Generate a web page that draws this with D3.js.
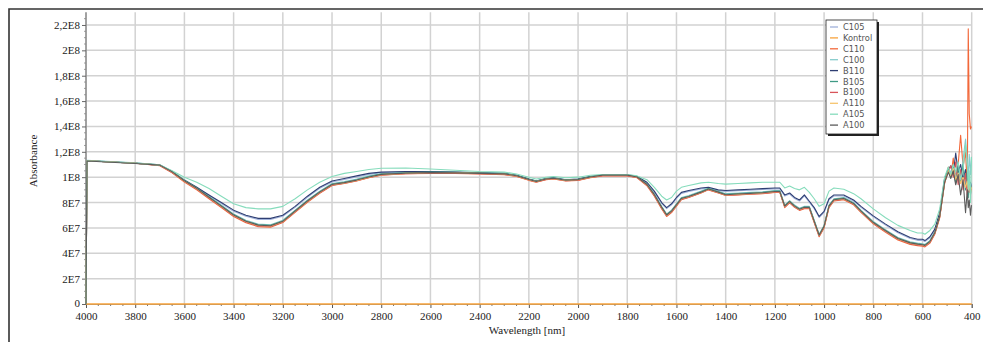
<!DOCTYPE html>
<html><head><meta charset="utf-8">
<script src="https://cdn.jsdelivr.net/npm/d3@7"></script>
<style>body{margin:0;background:#fff}</style></head>
<body>
<svg id="c" width="983" height="342"></svg>
<script>
// Wavelengths [nm] shared by all spectra
const wavelengths = [
  4000, 3996, 3900, 3800, 3700, 3650, 3600, 3550, 3500, 3450,
  3400, 3350, 3300, 3250, 3200, 3150, 3100, 3050, 3000, 2950,
  2900, 2850, 2800, 2700, 2600, 2500, 2400, 2300, 2250, 2200,
  2170, 2130, 2100, 2050, 2000, 1950, 1900, 1800, 1760, 1720,
  1690, 1660, 1640, 1620, 1600, 1580, 1550, 1500, 1470, 1430,
  1400, 1350, 1300, 1250, 1200, 1180, 1160, 1140, 1120, 1100,
  1080, 1060, 1040, 1020, 1000, 980, 960, 920, 880, 850,
  800, 750, 700, 650, 620, 600, 590, 570, 550, 530,
  510, 495, 485, 475, 465, 455, 445, 435, 425, 418, 414, 410, 405, 401
];
// Absorbance values in units of 1E7
const C105 = [
  0, 11.3, 11.2, 11.1, 10.95, 10.4, 9.72, 9.15, 8.55, 7.92,
  7.32, 6.92, 6.67, 6.67, 6.92, 7.62, 8.42, 9.12, 9.62, 9.82,
  10.02, 10.22, 10.35, 10.4, 10.4, 10.36, 10.32, 10.27, 10.12, 9.82,
  9.68, 9.88, 9.92, 9.78, 9.82, 10.02, 10.14, 10.14, 10.02, 9.55,
  8.82, 7.92, 7.52, 7.82, 8.32, 8.72, 8.88, 9.08, 9.14, 8.94,
  8.88, 8.93, 8.98, 9.03, 9.08, 9.08, 8.52, 8.67, 8.32, 8.12,
  8.52, 8.02, 7.52, 6.82, 7.22, 8.22, 8.52, 8.52, 8.12, 7.62,
  6.87, 6.22, 5.62, 5.17, 5.02, 5.02, 4.92, 5.22, 5.82, 7.1,
  9.9, 10.7, 10.4, 10.8, 10.2, 10.9, 10.0, 10.5, 9.6, 10.1, 9.3, 9.8, 9.1, 9.5
];
const kontrolWavelengths = [4000, 400];
const Kontrol = [0, 0];
const C110 = [
  0, 11.3, 11.2, 11.1, 10.9, 10.35, 9.62, 9.0, 8.3, 7.6,
  6.9, 6.4, 6.1, 6.05, 6.42, 7.22, 8.02, 8.72, 9.35, 9.5,
  9.7, 9.95, 10.15, 10.28, 10.3, 10.3, 10.25, 10.2, 10.05, 9.75,
  9.6, 9.8, 9.85, 9.7, 9.75, 9.95, 10.1, 10.1, 9.95, 9.32,
  8.5, 7.5, 6.9, 7.2, 7.72, 8.22, 8.4, 8.75, 9.0, 8.75,
  8.55, 8.6, 8.65, 8.7, 8.8, 8.8, 7.6, 7.98, 7.62, 7.38,
  7.52, 7.52, 6.4, 5.3, 6.0, 7.6, 8.12, 8.22, 7.82, 7.22,
  6.32, 5.65, 5.05, 4.7, 4.6, 4.55, 4.5, 4.8, 5.5, 6.8,
  9.5, 10.8, 10.0, 11.5, 9.6, 11.0, 13.3, 10.8, 12.0, 9.0, 21.7, 15.0, 13.8, 14.0
];
const C100 = [
  0, 11.33, 11.23, 11.13, 10.98, 10.48, 9.8, 9.2, 8.5, 7.8,
  7.1, 6.6, 6.3, 6.25, 6.6, 7.4, 8.2, 8.9, 9.5, 9.65,
  9.85, 10.1, 10.28, 10.38, 10.42, 10.4, 10.36, 10.32, 10.16, 9.86,
  9.72, 9.92, 9.96, 9.82, 9.86, 10.06, 10.2, 10.2, 10.06, 9.5,
  8.7, 7.7, 7.1, 7.4, 7.9, 8.4, 8.55, 8.9, 9.15, 8.9,
  8.7, 8.75, 8.8, 8.85, 8.95, 8.95, 7.8, 8.15, 7.8, 7.55,
  7.7, 7.7, 6.6, 5.5, 6.2, 7.8, 8.3, 8.4, 8.0, 7.4,
  6.5, 5.85, 5.25, 4.9, 4.8, 4.75, 4.7, 5.0, 5.7, 7.0,
  9.8, 10.5, 10.3, 10.6, 10.0, 10.4, 9.8, 11.4, 13.0, 11.2, 10.0, 11.8, 10.2, 11.6
];
const B110 = [
  0, 11.3, 11.2, 11.1, 10.95, 10.4, 9.75, 9.2, 8.6, 8.0,
  7.4, 7.0, 6.75, 6.75, 7.0, 7.7, 8.5, 9.2, 9.7, 9.9,
  10.1, 10.3, 10.4, 10.45, 10.45, 10.4, 10.35, 10.3, 10.15, 9.85,
  9.7, 9.9, 9.95, 9.8, 9.85, 10.05, 10.15, 10.15, 10.05, 9.6,
  8.9, 8.0, 7.6, 7.9, 8.4, 8.8, 8.95, 9.15, 9.2, 9.0,
  8.95, 9.0, 9.05, 9.1, 9.15, 9.15, 8.6, 8.75, 8.4, 8.2,
  8.6, 8.1, 7.6, 6.9, 7.3, 8.3, 8.6, 8.6, 8.2, 7.7,
  6.95, 6.3, 5.7, 5.25, 5.1, 5.1, 5.0, 5.3, 5.9, 7.2,
  9.9, 10.6, 10.9, 10.2, 11.9, 10.4, 11.0, 9.8, 10.6, 9.2, 9.9, 9.0, 9.6, 9.2
];
const B105 = [
  0, 11.32, 11.22, 11.12, 10.97, 10.45, 9.75, 9.15, 8.45, 7.75,
  7.05, 6.55, 6.25, 6.2, 6.55, 7.35, 8.15, 8.85, 9.45, 9.6,
  9.8, 10.05, 10.25, 10.35, 10.4, 10.38, 10.33, 10.28, 10.13, 9.83,
  9.68, 9.88, 9.93, 9.78, 9.83, 10.03, 10.18, 10.18, 10.03, 9.45,
  8.65, 7.65, 7.05, 7.35, 7.85, 8.35, 8.5, 8.85, 9.1, 8.85,
  8.65, 8.7, 8.75, 8.8, 8.9, 8.9, 7.75, 8.1, 7.75, 7.5,
  7.65, 7.65, 6.55, 5.45, 6.15, 7.75, 8.25, 8.35, 7.95, 7.35,
  6.45, 5.8, 5.2, 4.85, 4.75, 4.7, 4.65, 4.95, 5.65, 6.95,
  9.7, 10.7, 10.0, 10.9, 9.5, 10.8, 9.6, 11.0, 9.0, 10.4, 8.4, 9.8, 8.6, 9.3
];
const B100 = [
  0, 11.3, 11.2, 11.1, 10.93, 10.37, 9.67, 9.06, 8.36, 7.66,
  6.96, 6.46, 6.16, 6.11, 6.47, 7.27, 8.07, 8.77, 9.37, 9.52,
  9.72, 9.97, 10.17, 10.27, 10.32, 10.32, 10.27, 10.22, 10.07, 9.77,
  9.62, 9.82, 9.87, 9.72, 9.77, 9.97, 10.12, 10.12, 9.97, 9.37,
  8.56, 7.56, 6.96, 7.26, 7.76, 8.26, 8.42, 8.77, 9.02, 8.77,
  8.57, 8.62, 8.67, 8.72, 8.82, 8.82, 7.66, 8.02, 7.66, 7.42,
  7.56, 7.56, 6.46, 5.36, 6.06, 7.66, 8.17, 8.27, 7.87, 7.27,
  6.37, 5.72, 5.12, 4.76, 4.66, 4.62, 4.56, 4.86, 5.56, 6.86,
  9.6, 10.4, 10.9, 10.0, 11.2, 9.4, 10.6, 9.0, 10.3, 8.6, 9.5, 8.8, 9.4, 9.0
];
const A110 = [
  0, 11.3, 11.2, 11.1, 10.95, 10.4, 9.7, 9.1, 8.4, 7.7,
  7.0, 6.5, 6.2, 6.15, 6.5, 7.3, 8.1, 8.8, 9.4, 9.55,
  9.75, 10.0, 10.2, 10.3, 10.35, 10.35, 10.3, 10.25, 10.1, 9.8,
  9.65, 9.85, 9.9, 9.75, 9.8, 10.0, 10.15, 10.15, 10.0, 9.4,
  8.6, 7.6, 7.0, 7.3, 7.8, 8.3, 8.45, 8.8, 9.05, 8.8,
  8.6, 8.65, 8.7, 8.75, 8.85, 8.85, 7.7, 8.05, 7.7, 7.45,
  7.6, 7.6, 6.5, 5.4, 6.1, 7.7, 8.2, 8.3, 7.9, 7.3,
  6.4, 5.75, 5.15, 4.8, 4.7, 4.65, 4.6, 4.9, 5.6, 6.9,
  9.6, 10.5, 10.1, 10.7, 9.8, 10.3, 9.5, 10.0, 9.2, 9.7, 9.0, 9.4, 8.8, 9.2
];
const A105 = [
  0, 11.3, 11.2, 11.1, 10.95, 10.5, 10.0, 9.6, 9.1, 8.5,
  7.9, 7.6, 7.5, 7.5, 7.7, 8.3, 9.0, 9.6, 10.05, 10.3,
  10.45, 10.6, 10.7, 10.72, 10.65, 10.55, 10.45, 10.4, 10.25, 10.0,
  9.85, 10.0, 10.05, 9.95, 10.0, 10.15, 10.2, 10.2, 10.1, 9.8,
  9.2, 8.5, 8.2, 8.4, 8.9, 9.2, 9.35, 9.55, 9.6, 9.5,
  9.45, 9.5, 9.55, 9.6, 9.6, 9.6, 9.15, 9.3, 9.1, 9.0,
  9.2, 8.8, 8.3, 7.7, 7.9, 8.9, 9.15, 9.05, 8.7, 8.3,
  7.5, 6.8, 6.2, 5.8, 5.6, 5.6, 5.5, 5.8, 6.3, 7.5,
  10.0, 10.8, 10.2, 11.0, 10.4, 11.2, 9.8, 10.6, 12.6, 11.0, 9.0, 10.5, 8.0, 11.6
];
const A100 = [
  0, 11.28, 11.18, 11.08, 10.95, 10.42, 9.72, 9.12, 8.42, 7.72,
  7.02, 6.52, 6.22, 6.17, 6.52, 7.32, 8.12, 8.82, 9.42, 9.57,
  9.77, 10.02, 10.22, 10.32, 10.36, 10.34, 10.3, 10.26, 10.11, 9.81,
  9.66, 9.86, 9.91, 9.76, 9.81, 10.01, 10.16, 10.16, 10.01, 9.42,
  8.62, 7.62, 7.02, 7.32, 7.82, 8.32, 8.47, 8.82, 9.07, 8.82,
  8.62, 8.67, 8.72, 8.77, 8.87, 8.87, 7.72, 8.07, 7.72, 7.47,
  7.62, 7.62, 6.52, 5.42, 6.12, 7.72, 8.22, 8.32, 7.92, 7.32,
  6.42, 5.77, 5.17, 4.82, 4.72, 4.67, 4.62, 4.92, 5.62, 6.92,
  9.6, 10.4, 9.9, 10.5, 9.4, 10.2, 8.6, 9.8, 7.2, 9.0, 7.6, 8.2, 7.0, 7.8
];
const seriesNames = ["C105","Kontrol","C110","C100","B110","B105","B100","A110","A105","A100"];
const seriesColors = ["#9fb1da","#f7a33c","#f2683a","#86cccc","#2e3e72","#3f9a85","#d8545a","#f6c46e","#86dcbc","#5b5b5b"];
const xTicks = [4000,3800,3600,3400,3200,3000,2800,2600,2400,2200,2000,1800,1600,1400,1200,1000,800,600,400];
const yTicks = [0,2e7,4e7,6e7,8e7,1e8,1.2e8,1.4e8,1.6e8,1.8e8,2e8,2.2e8];
const yTickLabels = ["0","2E7","4E7","6E7","8E7","1E8","1,2E8","1,4E8","1,6E8","1,8E8","2E8","2,2E8"];

const seriesValues = [C105, Kontrol, C110, C100, B110, B105, B100, A110, A105, A100];

const svg = d3.select("#c");
const x = d3.scaleLinear().domain([4000, 400]).range([86, 971.7]);
const y = d3.scaleLinear().domain([0, 2.3e8]).range([304, 12.3]);

// outer frame
svg.append("path").attr("d", "M9,342 V9 H983").attr("fill","none").attr("stroke","#333").attr("stroke-width",1.6);

// grid
const g = svg.append("g");
g.selectAll(".vg").data(xTicks).join("line")
  .attr("x1", d => x(d)).attr("x2", d => x(d)).attr("y1", y.range()[1]).attr("y2", y(0))
  .attr("stroke", "#d2d2d2").attr("stroke-width", 1.5);
g.selectAll(".hg").data(yTicks.slice(1)).join("line")
  .attr("x1", x(4000)).attr("x2", x(400)).attr("y1", d => y(d)).attr("y2", d => y(d))
  .attr("stroke", "#d2d2d2").attr("stroke-width", 1.5);

// y axis
const yAxis = d3.axisLeft(y).tickValues(yTicks).tickFormat((d,i) => yTickLabels[i]).tickSize(4).tickPadding(2);
const ya = svg.append("g").attr("transform", `translate(${x(4000)},0)`).call(yAxis);
ya.select(".domain").attr("stroke","#666").attr("d", `M0,${y.range()[1]}V${y(0)}`);
ya.selectAll(".tick line").attr("stroke","#666");
ya.selectAll("text").attr("font-family","'Liberation Serif', serif").attr("font-size", 11).attr("fill","#222");
ya.selectAll(".tick").filter(d => d === 0).select("text").attr("dy", "0.2em");
const yMinor = d3.range(0, 2.3e8, 5e6).filter(v => v % 2e7 !== 0);
svg.append("g").selectAll("line").data(yMinor).join("line")
  .attr("x1", x(4000) - 2).attr("x2", x(4000)).attr("y1", d => y(d)).attr("y2", d => y(d))
  .attr("stroke", "#888").attr("stroke-width", 0.8);

// x axis
const xAxis = d3.axisBottom(x).tickValues(xTicks).tickFormat(d3.format("d")).tickSize(4).tickPadding(4);
const xa = svg.append("g").attr("transform", `translate(0,${y(0)})`).call(xAxis);
xa.select(".domain").attr("stroke","#888");
xa.selectAll(".tick line").attr("stroke","#555");
xa.selectAll("text").attr("font-family","'Liberation Serif', serif").attr("font-size", 11).attr("fill","#222");
const xMinor = d3.range(4000, 399, -50).filter(v => v % 200 !== 0);
svg.append("g").selectAll("line").data(xMinor).join("line")
  .attr("x1", d => x(d)).attr("x2", d => x(d)).attr("y1", y(0)).attr("y2", y(0) + 2)
  .attr("stroke", "#555").attr("stroke-width", 0.8);

// axis titles
svg.append("text").attr("x", 527).attr("y", 334).attr("text-anchor","middle")
  .attr("font-family","'Liberation Serif', serif").attr("font-size", 11).attr("fill","#222").text("Wavelength [nm]");
svg.append("text").attr("transform","translate(37,161) rotate(-90)").attr("text-anchor","middle")
  .attr("font-family","'Liberation Serif', serif").attr("font-size", 11).attr("fill","#222").text("Absorbance");

// lines
const line = d3.line().x(d => x(d[0])).y(d => y(d[1] * 1e7));
const lines = svg.append("g").attr("fill","none");
seriesNames.forEach((name, i) => {
  const wl = name === "Kontrol" ? kontrolWavelengths : wavelengths;
  const pts = seriesValues[i].map((v, j) => [wl[j], v]);
  lines.append("path").attr("d", line(pts)).attr("stroke", seriesColors[i])
    .attr("stroke-width", name === "Kontrol" ? 1.5 : 1.1).attr("stroke-linejoin","round");
});

// legend
const lg = svg.append("g");
lg.append("rect").attr("x", 828).attr("y", 22).attr("width", 51).attr("height", 114).attr("fill", "#222");
lg.append("rect").attr("x", 826).attr("y", 20).attr("width", 51).attr("height", 114)
  .attr("fill", "#fff").attr("stroke", "#222").attr("stroke-width", 0.8);
seriesNames.forEach((name, i) => {
  const yy = 27 + i * 10.9;
  lg.append("line").attr("x1", 830).attr("x2", 838).attr("y1", yy).attr("y2", yy)
    .attr("stroke", seriesColors[i]).attr("stroke-width", 1.3);
  lg.append("text").attr("x", 843).attr("y", yy + 3).attr("font-family","'DejaVu Sans', sans-serif")
    .attr("font-size", 8.3).attr("fill", "#555").text(name);
});
</script>
</body></html>
